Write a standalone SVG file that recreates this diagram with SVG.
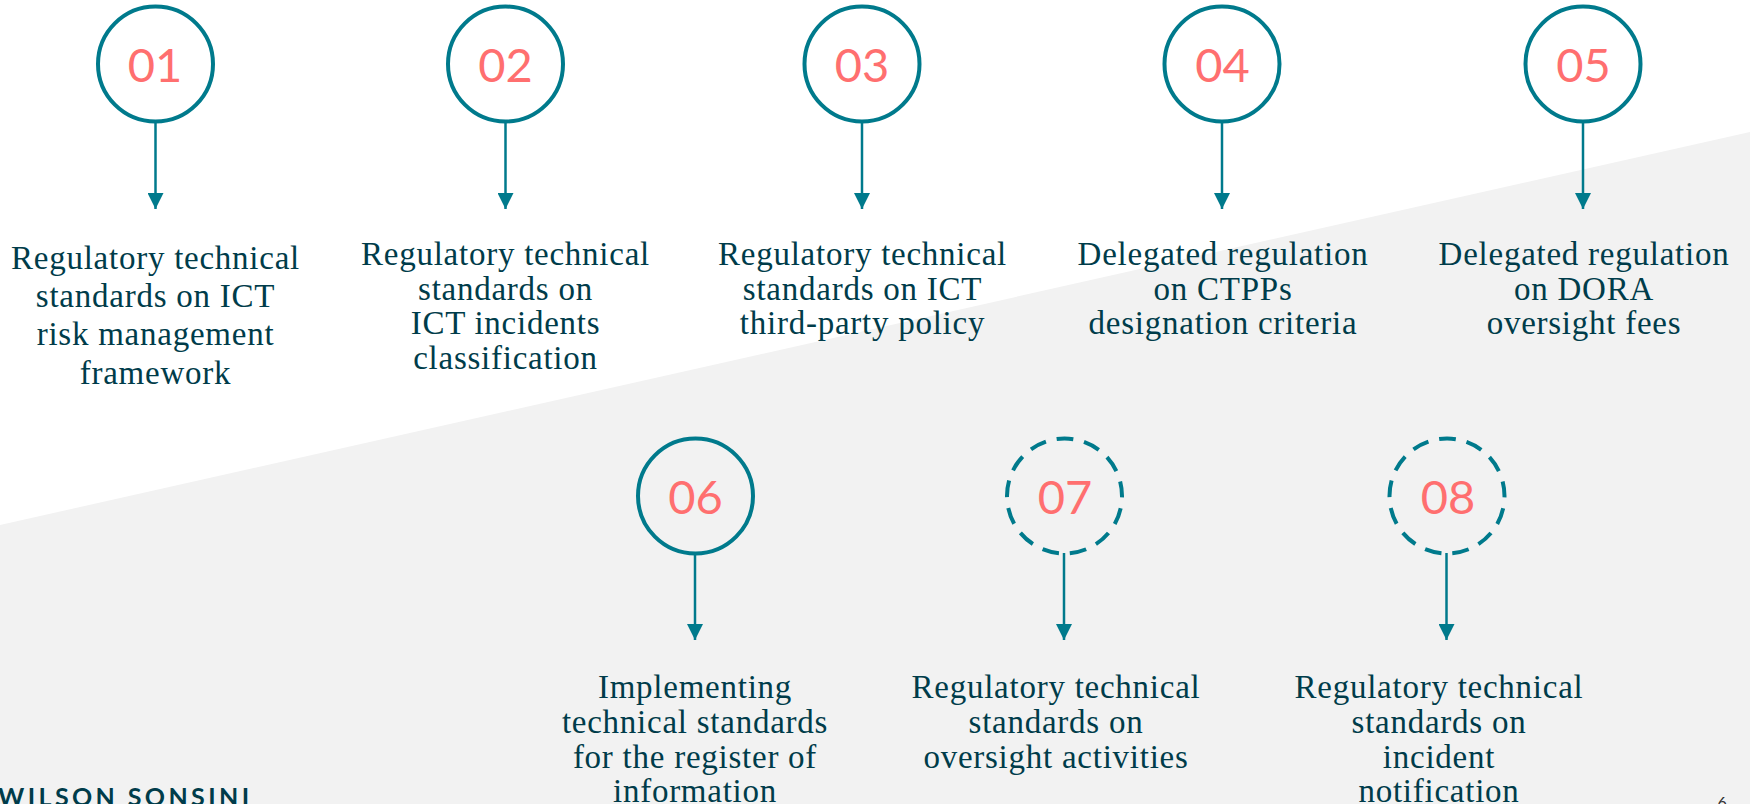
<svg xmlns="http://www.w3.org/2000/svg" width="1750" height="804" viewBox="0 0 1750 804">
<style>
.c{fill:none;stroke:#007a8c;stroke-width:4}
.d{stroke-dasharray:16.8 11;stroke-dashoffset:-12.4}
.n{font-family:Lato,"Open Sans",sans-serif;font-size:47px;fill:#ff6f6f;text-anchor:middle}
.t{font-family:"Liberation Serif",serif;font-size:33px;letter-spacing:.75px;fill:#003c4a;text-anchor:middle}
.l{stroke:#007a8c;stroke-width:2.5;fill:none;marker-end:url(#a)}
</style>
<defs><marker id="a" markerUnits="userSpaceOnUse" markerWidth="16" markerHeight="16" refX="16" refY="8" orient="auto"><path d="M0 0L16 8L0 16Z" fill="#007a8c"/></marker></defs>
<rect width="1750" height="804" fill="#fff"/>
<polygon points="0,525 1750,132 1750,804 0,804" fill="#f2f2f2"/>
<g id="connectors">
<line class="l" x1="155.5" y1="122" x2="155.5" y2="209"/>
<line class="l" x1="505.5" y1="122" x2="505.5" y2="209"/>
<line class="l" x1="862" y1="122" x2="862" y2="209"/>
<line class="l" x1="1222" y1="122" x2="1222" y2="209"/>
<line class="l" x1="1583" y1="122" x2="1583" y2="209"/>
<line class="l" x1="695" y1="553" x2="695" y2="640"/>
<line class="l" x1="1064" y1="553" x2="1064" y2="640"/>
<line class="l" x1="1446.5" y1="553" x2="1446.5" y2="640"/>
</g>
<g id="n1"><circle class="c" cx="155.5" cy="64" r="57.5"/><text class="n" x="155" y="82">01</text>
<text class="t"><tspan x="155.5" y="269">Regulatory technical</tspan><tspan x="155.5" y="307">standards on ICT</tspan><tspan x="155.5" y="345">risk management</tspan><tspan x="155.5" y="384">framework</tspan></text></g>
<g id="n2"><circle class="c" cx="505.5" cy="64" r="57.5"/><text class="n" x="505.5" y="82">02</text>
<text class="t"><tspan x="505.5" y="265">Regulatory technical</tspan><tspan x="505.5" y="300">standards on</tspan><tspan x="505.5" y="334">ICT incidents</tspan><tspan x="505.5" y="369">classification</tspan></text></g>
<g id="n3"><circle class="c" cx="862" cy="64" r="57.5"/><text class="n" x="862" y="82">03</text>
<text class="t"><tspan x="862.5" y="265">Regulatory technical</tspan><tspan x="862.5" y="300">standards on ICT</tspan><tspan x="862.5" y="334">third-party policy</tspan></text></g>
<g id="n4"><circle class="c" cx="1222" cy="64" r="57.5"/><text class="n" x="1222.5" y="82">04</text>
<text class="t"><tspan x="1223" y="265">Delegated regulation</tspan><tspan x="1223" y="300">on CTPPs</tspan><tspan x="1223" y="334">designation criteria</tspan></text></g>
<g id="n5"><circle class="c" cx="1583" cy="64" r="57.5"/><text class="n" x="1583.5" y="82">05</text>
<text class="t"><tspan x="1584" y="265">Delegated regulation</tspan><tspan x="1584" y="300">on DORA</tspan><tspan x="1584" y="334">oversight fees</tspan></text></g>
<g id="n6"><circle class="c" cx="695.5" cy="496" r="57.5"/><text class="n" x="695.5" y="514">06</text>
<text class="t"><tspan x="695" y="698">Implementing</tspan><tspan x="695" y="733">technical standards</tspan><tspan x="695" y="768">for the register of</tspan><tspan x="695" y="802">information</tspan></text></g>
<g id="n7"><circle class="c d" cx="1064.5" cy="496" r="57.5"/><text class="n" x="1065" y="514">07</text>
<text class="t"><tspan x="1056" y="698">Regulatory technical</tspan><tspan x="1056" y="733">standards on</tspan><tspan x="1056" y="768">oversight activities</tspan></text></g>
<g id="n8"><circle class="c d" cx="1447" cy="496" r="57.5"/><text class="n" x="1448" y="514">08</text>
<text class="t"><tspan x="1439" y="698">Regulatory technical</tspan><tspan x="1439" y="733">standards on</tspan><tspan x="1439" y="768">incident</tspan><tspan x="1439" y="802">notification</tspan></text></g>
<text x="-2" y="806" font-family="Lato,sans-serif" font-weight="700" font-size="25px" letter-spacing="3.4" fill="#003c4a">WILSON SONSINI</text>
<text x="1717.5" y="808" font-family="Lato,sans-serif" font-size="16px" fill="#333">6</text>
</svg>
